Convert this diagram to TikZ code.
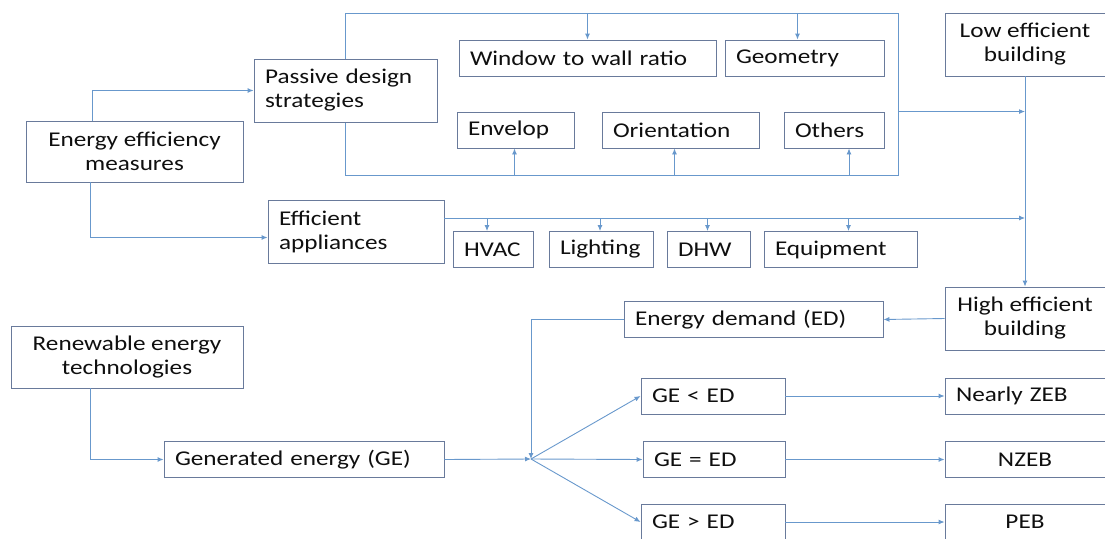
\documentclass[tikz,border=0pt]{standalone}
\usepackage{fontspec}
\setmainfont{Carlito}[FakeStretch=1.2]
\usepackage{xcolor}
\usepackage{tikz}
\usetikzlibrary{arrows.meta,calc,positioning}
\definecolor{zebline}{RGB}{105,122,155}
\definecolor{zebarrow}{RGB}{104,152,204}
\definecolor{zebtext}{RGB}{15,15,15}

\tikzset{
  box/.style={draw=zebline, fill=white, line width=0.9pt, text=zebtext,
    inner xsep=11pt, inner ysep=0pt, minimum height=36pt},
  lbox/.style={box, align=left},
  cbox/.style={box, align=center},
  link/.style={zebarrow, line width=0.9pt},
  arr/.style={link, -{Latex[length=6pt,width=5pt]}}
}

\begin{document}
\begin{tikzpicture}[x=1pt, y=-1pt, font=\fontsize{21}{24}\selectfont]
   \useasboundingbox (0,0) rectangle (1105,538); % same canvas as the figure

   % passive design frame (sits behind the strategy box)
   \coordinate (fnw) at (345,13);
   \coordinate (fse) at (898,175);
   \draw[link] (fnw) rectangle (fse);

   % efficiency measures
   \node[cbox, minimum width=217pt, minimum height=61pt] (eem) at (134.5,151.5) {Energy efficiency\\measures};
   \node[lbox, text width=161pt, minimum height=63pt] (pds) at (345.5,90.5) {Passive design\\strategies};
   \node[lbox, text width=154pt, minimum height=63pt] (ea) at (356,231.5) {Efficient\\appliances};

   % passive strategies
   \node[lbox, text width=235pt] (wwr) at (587.5,58) {Window to wall ratio};
   \node[lbox, text width=137pt] (geo) at (804.5,58) {Geometry};
   \node[lbox, text width=95pt]  (env) at (515.5,130) {Envelop};
   \node[lbox, text width=135pt] (ori) at (680.5,130) {Orientation};
   \node[lbox, text width=78pt]  (oth) at (834,130) {Others};

   % appliances
   \node[lbox, text width=58pt]  (hvac) at (493,249.5) {HVAC};
   \node[lbox, text width=82pt]  (lig)  at (601,249.5) {Lighting};
   \node[lbox, text width=61pt]  (dhw)  at (708.5,249.5) {DHW};
   \node[lbox, text width=131pt] (equ)  at (840.5,249.5) {Equipment};

   % buildings
   \node[cbox, minimum width=160pt, minimum height=63pt] (leb) at (1025,44.5) {Low efficient\\building};
   \node[cbox, minimum width=160pt, minimum height=63pt] (heb) at (1025,318.5) {High efficient\\building};

   % balance
   \node[lbox, text width=237pt] (ed) at (753.5,319.5) {Energy demand (ED)};
   \node[cbox, minimum width=232pt, minimum height=62pt] (ret) at (127,357) {Renewable energy\\technologies};
   \node[lbox, text width=258pt] (ge) at (304,459.5) {Generated energy (GE)};
   \coordinate (jn) at (531,459);

   \node[lbox, text width=122pt] (lt) at (713,396)   {GE < ED};
   \node[lbox, text width=120pt] (eq) at (714,459.5) {GE = ED};
   \node[lbox, text width=122pt] (gt) at (713,522)   {GE > ED};

   \node[lbox, text width=138pt] (nzb) at (1025,396) {Nearly ZEB};
   \node[cbox, minimum width=160pt] (nzeb) at (1025,459.5) {NZEB};
   \node[cbox, minimum width=160pt] (peb)  at (1025,522)   {PEB};

   % connectors
   \draw[arr] ([xshift=-42pt]eem.north) |- (pds.west);
   \draw[arr] ([xshift=-44pt]eem.south) |- ([yshift=-6pt]ea.west);

   \draw[arr] (wwr.north |- fnw) -- (wwr.north);
   \draw[arr] ([xshift=-7pt]geo.north |- fnw) -- ([xshift=-7pt]geo.north);
   \foreach \b/\s in {env/-1, ori/-6, oth/15}
      \draw[arr] ([xshift=\s pt]\b.south |- fse) -- ([xshift=\s pt]\b.south);
   \draw[arr] (fse |- env.north) -- (leb.south |- env.north);

   \coordinate (bus) at ([yshift=13.5pt]ea.east);
   \draw[arr] (bus) -- (bus -| leb.south);
   \foreach \b/\s in {hvac/-6, lig/-1, dhw/-1, equ/8}
      \draw[arr] ([xshift=\s pt]\b.north |- bus) -- ([xshift=\s pt]\b.north);

   \draw[arr] (leb.south) -- (heb.north);
   \draw[arr] (heb.west) -- (ed.east);
   \draw[arr] (ed.west) -| (jn);

   \draw[arr] ([xshift=-37pt]ret.south) |- (ge.west);
   \draw[arr] (ge.east) -- (jn);
   \foreach \b in {lt,eq,gt}
      \draw[arr] (jn) -- (\b.west);

   \draw[arr] (lt.east) -- (nzb.west);
   \draw[arr] (eq.east) -- (nzeb.west);
   \draw[arr] (gt.east) -- (peb.west);

\end{tikzpicture}
\end{document}
